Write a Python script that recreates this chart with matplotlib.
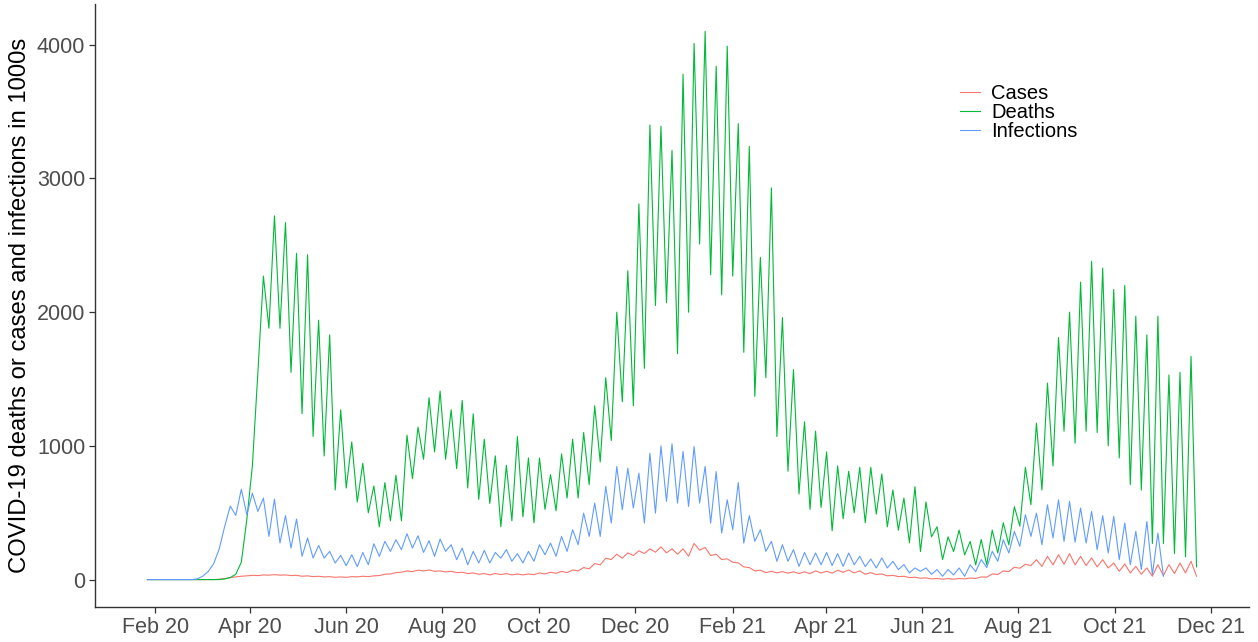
import numpy as np
import matplotlib
matplotlib.use("Agg")
import matplotlib.pyplot as plt
import matplotlib.dates as mdates
import datetime as dt

# Half-weekly readings (3.5-day steps) starting 27 Jan 2020, in 1000s
start_date = dt.datetime(2020, 1, 27)
step_days = 3.5

cases = [0]*13 + [3, 8, 15, 20, 25, 28, 32, 30, 35, 33, 37, 33, 35, 30, 32, 25, 28, 22, 25, 20, 22,
    17, 20, 17, 22, 20, 25, 22, 28, 30, 40, 42, 52, 55, 65, 60, 70, 65, 72, 62, 65, 57, 62, 52, 55,
    45, 50, 40, 45, 35, 45, 38, 45, 35, 42, 35, 42, 37, 50, 42, 55, 47, 62, 52, 72, 65, 90, 80, 120,
    110, 160, 150, 190, 160, 200, 180, 215, 195, 230, 205, 245, 200, 230, 190, 230, 175, 270, 220,
    240, 180, 190, 150, 155, 130, 125, 95, 90, 65, 70, 52, 62, 50, 60, 48, 58, 45, 58, 45, 65, 50,
    62, 48, 70, 55, 72, 50, 65, 40, 52, 38, 42, 28, 32, 22, 25, 15, 18, 10, 13, 5, 8, 3, 7, 3, 8, 5,
    12, 8, 20, 18, 42, 38, 65, 60, 92, 85, 115, 105, 149, 99, 174, 110, 186, 115, 194, 110, 174, 105,
    162, 95, 149, 87, 124, 62, 117, 50, 99, 40, 87, 25, 112, 30, 112, 45, 124, 50, 137, 25]

deaths = [0]*14 + [5, 15, 40, 130, 450, 850, 1550, 2270, 1880, 2720, 1880, 2670, 1550, 2440, 1240,
    2430, 1070, 1940, 925, 1830, 670, 1270, 685, 1030, 580, 870, 500, 700, 395, 725, 440, 780, 440,
    1080, 755, 1140, 900, 1360, 955, 1410, 900, 1270, 830, 1340, 685, 1240, 600, 1050, 570, 925, 395,
    855, 440, 1070, 470, 910, 425, 910, 525, 785, 515, 940, 610, 1050, 610, 1100, 710, 1300, 880,
    1510, 1040, 2000, 1330, 2310, 1300, 2810, 1580, 3400, 2050, 3390, 2070, 3210, 1690, 3780, 2000,
    4010, 2510, 4100, 2280, 3840, 2130, 3990, 2270, 3410, 1700, 3240, 1370, 2410, 1510, 2930, 1070,
    1960, 810, 1570, 640, 1180, 525, 1110, 540, 955, 365, 850, 455, 810, 500, 840, 425, 840, 490,
    790, 395, 670, 370, 610, 275, 695, 210, 580, 320, 395, 150, 320, 210, 370, 185, 285, 110, 300,
    110, 370, 200, 425, 260, 545, 400, 840, 560, 1170, 670, 1470, 850, 1810, 1110, 2000, 1020, 2225,
    1110, 2380, 1100, 2330, 1000, 2170, 910, 2200, 710, 1970, 670, 1830, 270, 1970, 270, 1530, 195,
    1550, 170, 1670, 95]

infections = [0]*9 + [5, 25, 60, 120, 230, 400, 550, 480, 676, 485, 646, 510, 609, 323, 602, 274,
    478, 236, 453, 174, 311, 161, 256, 161, 211, 124, 181, 104, 186, 97, 203, 111, 268, 174, 286,
    211, 298, 224, 343, 236, 328, 203, 291, 174, 303, 211, 261, 149, 236, 111, 211, 124, 218, 124,
    203, 160, 224, 137, 194, 124, 211, 137, 261, 186, 273, 174, 323, 211, 373, 261, 497, 323, 572,
    323, 697, 423, 846, 522, 833, 535, 796, 423, 945, 497, 1000, 585, 1015, 572, 958, 547, 995, 572,
    846, 423, 808, 348, 597, 373, 726, 273, 478, 286, 373, 211, 286, 137, 261, 137, 224, 99, 203,
    111, 199, 111, 203, 105, 194, 99, 199, 111, 174, 97, 154, 87, 162, 87, 137, 75, 112, 50, 87, 62,
    87, 40, 75, 25, 75, 35, 87, 25, 110, 60, 150, 90, 211, 137, 298, 199, 361, 249, 485, 323, 497,
    261, 560, 311, 597, 286, 585, 280, 535, 273, 510, 224, 478, 199, 473, 149, 423, 111, 361, 75,
    435, 37, 348, 25]

series_names = ["Cases", "Deaths", "Infections"]
series_colors = ["#F8766D", "#00BA38", "#619CFF"]
tick_dates = [dt.datetime(2020, m, 1) for m in (2, 4, 6, 8, 10, 12)] + \
             [dt.datetime(2021, m, 1) for m in (2, 4, 6, 8, 10, 12)]


def dates_for(values):
    return [start_date + dt.timedelta(days=step_days * i) for i in range(len(values))]


plt.rcParams['font.family'] = ['Liberation Sans', 'DejaVu Sans']

fig = plt.figure(figsize=(12.58, 6.42), dpi=100)
ax = fig.add_axes([95/1258, 1 - 607/642, (1249 - 95)/1258, (607 - 4)/642])

for name, vals, col in zip(series_names, [cases, deaths, infections], series_colors):
    ax.plot(dates_for(vals), vals, color=col, lw=0.8, label=name)

ax.set_xticks(tick_dates)
ax.xaxis.set_major_formatter(mdates.DateFormatter('%b %y'))
ax.set_yticks([0, 1000, 2000, 3000, 4000])
ax.margins(x=0.05, y=0.05)

for side in ('top', 'right'):
    ax.spines[side].set_visible(False)
for side in ('left', 'bottom'):
    ax.spines[side].set_color('#333333')
    ax.spines[side].set_linewidth(1.0)

ax.tick_params(axis='both', colors='#333333', length=4, width=0.9, labelsize=15.5,
               labelcolor='#4D4D4D')
ax.tick_params(axis='x', pad=3)
ax.tick_params(axis='y', pad=3)

ax.set_ylabel('COVID-19 deaths or cases and infections in 1000s', fontsize=17.2,
              color='black', labelpad=4)

leg = ax.legend(loc='upper left', bbox_to_anchor=(0.7425, 0.881), frameon=False,
                fontsize=14.5, handlelength=1.0, handletextpad=0.55, labelspacing=0.0,
                borderaxespad=0)

fig.savefig('out.png', dpi=100)
